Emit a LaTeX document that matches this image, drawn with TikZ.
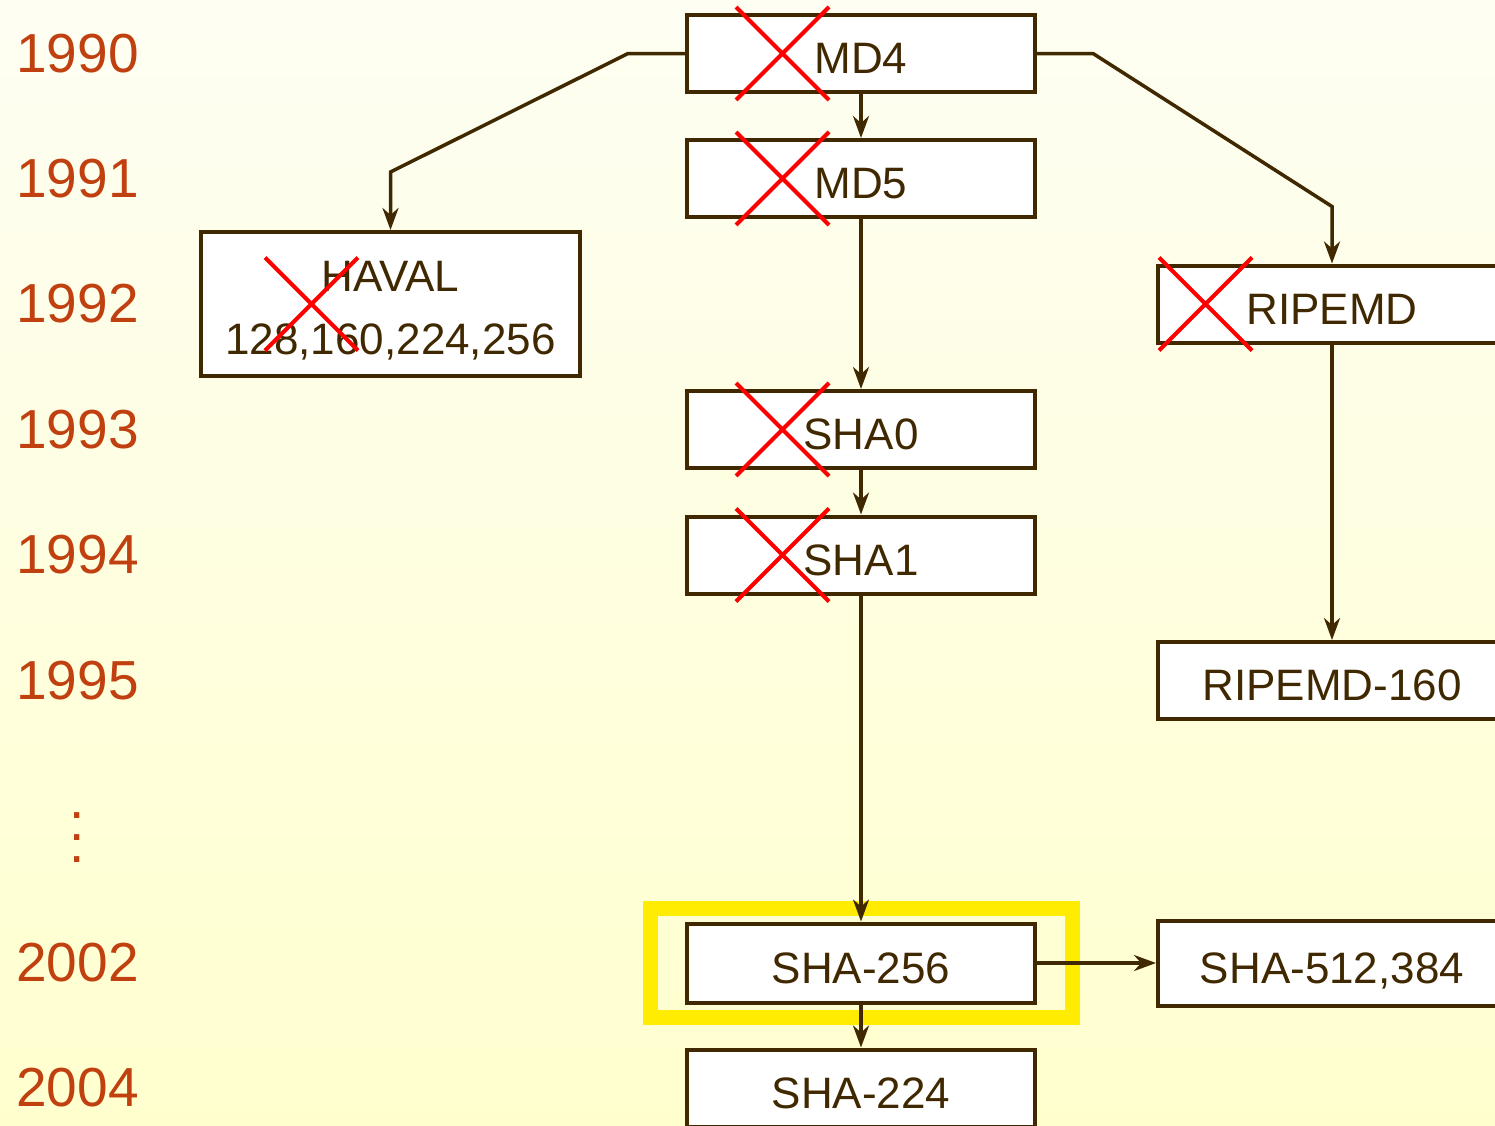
\documentclass[tikz,border=0pt]{standalone}
\usepackage{fontspec}
\setmainfont{Liberation Sans}
\usetikzlibrary{arrows.meta,positioning,calc,fit,shapes.misc}

\definecolor{ink1}{RGB}{64,40,0}
\definecolor{year1}{RGB}{192,64,16}
\definecolor{mark1}{RGB}{255,236,0}
\definecolor{bgtop}{RGB}{254,254,243}
\definecolor{bgbot}{RGB}{255,255,206}

\tikzstyle{year} = [text=year1, font=\fontsize{55}{22}\selectfont, inner sep=0pt]
\tikzstyle{block} = [rectangle, draw=ink1, line width=4pt, fill=white, text=ink1, text centered, font=\fontsize{44}{63}\selectfont, minimum width=348pt, minimum height=77pt, text height=40.5pt, text depth=0pt]
\tikzstyle{broken} = [cross out, draw=red, line width=4pt, minimum size=93pt, inner sep=0pt, outer sep=0pt]
\tikzstyle{link} = [draw=ink1, line width=3.5pt, -{Stealth[length=22pt, width=16pt, inset=7pt]}]
\tikzstyle{highlight} = [draw=mark1, line width=15pt, inner xsep=35pt, inner ysep=13pt]

\begin{document}
\begin{tikzpicture}[x=1pt, y=-1pt, node distance=125.5pt, auto]
	\useasboundingbox (0,0) rectangle (1495,1125);
	\shade [top color=bgtop, bottom color=bgbot] (0,0) rectangle (1495,1125);

	% Years
	\node [year] (y1990) at (77.5,53.5) {1990};
	\node [year, below of=y1990, node distance=125pt] (y1991) {1991};
	\node [year, below of=y1991] (y1992) {1992};
	\node [year, below of=y1992] (y1993) {1993};
	\node [year, below of=y1993] (y1994) {1994};
	\node [year, below of=y1994] (y1995) {1995};
	\node [year, below of=y1995, node distance=157.5pt, align=center] (gap) {.\\.\\.};
	\node [year, below of=gap, node distance=125pt] (y2002) {2002};
	\node [year, below of=y2002, node distance=125pt] (y2004) {2004};

	% Hash functions
	\node [block, right of=y1990, node distance=783.5pt] (md4) {MD4};
	\node [block, right of=y1991, node distance=783.5pt] (md5) {MD5};
	\node [block, right of=y1992, node distance=313pt, text height=, text depth=, align=center, minimum width=379pt, minimum height=144pt] (haval) {\rule{0pt}{43pt}HAVAL\\128,160,224,256};
	\node [block, right of=y1992, node distance=1254.5pt] (ripemd) {RIPEMD};
	\node [block, right of=y1993, node distance=783.5pt] (sha0) {SHA0};
	\node [block, right of=y1994, node distance=783.5pt] (sha1) {SHA1};
	\node [block, right of=y1995, node distance=1254.5pt] (rip160) {RIPEMD-160};
	\node [block, right of=y2002, node distance=783.5pt, minimum height=79pt] (sha256) {SHA-256};
	\node [block, right of=y2002, node distance=1254.5pt, minimum height=85pt] (sha512) {SHA-512,384};
	\node [block, right of=y2004, node distance=783.5pt] (sha224) {SHA-224};

	% Broken ones
	\node [broken, right=51pt of md4.west] (xmd4) {};
	\node [broken, right=51pt of md5.west] (xmd5) {};
	\node [broken, right=66pt of haval.west] (xhaval) {};
	\node [broken, right=3pt of ripemd.west] (xripemd) {};
	\node [broken, right=51pt of sha0.west] (xsha0) {};
	\node [broken, right=51pt of sha1.west] (xsha1) {};

	\node [highlight, fit=(sha256)] (mark) {};

	\draw [link] (md4.south) to (md5.north);
	\draw [link] (md4.west) -- ++(-57pt,0pt) -- ($(haval.north)+(0pt,58pt)$) -- (haval.north);
	\draw [link] (md4.east) -- ++(56pt,0pt) -- ($(ripemd.north)+(0pt,57pt)$) -- (ripemd.north);
	\draw [link] (md5.south) to (sha0.north);
	\draw [link] (sha0.south) to (sha1.north);
	\draw [link] (sha1.south) to (sha256.north);
	\draw [link] (sha256.south) to (sha224.north);
	\draw [link] (sha256.east) to (sha512.west);
	\draw [link] (ripemd.south) to (rip160.north);
\end{tikzpicture}
\end{document}
